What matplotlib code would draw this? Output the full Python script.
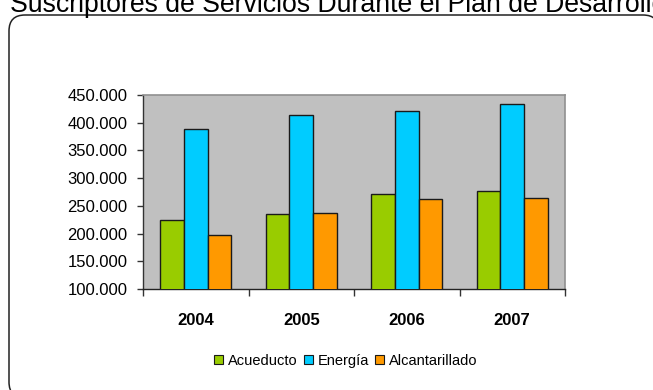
import matplotlib
matplotlib.use("Agg")
import matplotlib.pyplot as plt
from matplotlib.patches import FancyBboxPatch, Patch
from matplotlib.ticker import FuncFormatter
import numpy as np

plt.rcParams['font.family'] = ['Liberation Sans', 'DejaVu Sans']

years = ["2004", "2005", "2006", "2007"]
series_names = ["Acueducto", "Energía", "Alcantarillado"]
acueducto = [225000, 235000, 271000, 276000]
energia = [389000, 414000, 421000, 434000]
alcantarillado = [197000, 238000, 262000, 265000]
colors = ["#99CC00", "#00CCFF", "#FF9900"]
title = "Suscriptores de Servicios Durante el Plan de Desarrollo"

W, H, DPI = 653, 390, 100
fig = plt.figure(figsize=(W / DPI, H / DPI), dpi=DPI)

# rounded frame around the chart
frame = FancyBboxPatch((9, -8), 650, 383, boxstyle="round,pad=0,rounding_size=16",
                       transform=None, facecolor="white", edgecolor="#222222",
                       linewidth=1.1, clip_on=False, zorder=-5)
fig.patches.append(frame)

fig.text(10 / W, 1 - 12.5 / H, title, ha="left", va="baseline", fontsize=19.15,
         color="black")

ax = fig.add_axes([143 / W, 1 - 289 / H, (565 - 143) / W, (289 - 95) / H])
ax.set_zorder(2)
ax.set_facecolor("#C0C0C0")

x = np.arange(len(years))
bw = 0.224
for i, (vals, c) in enumerate(zip([acueducto, energia, alcantarillado], colors)):
    ax.bar(x + (i - 1) * bw, vals, width=bw, color=c, edgecolor="#1a1a1a",
           linewidth=1.0, zorder=3)

ax.set_ylim(100000, 450000)
ax.set_xlim(-0.5, len(years) - 0.5)
ax.set_yticks(np.arange(100000, 450001, 50000))
ax.yaxis.set_major_formatter(FuncFormatter(lambda v, p: f"{int(v):,}".replace(",", ".")))
ax.tick_params(axis="y", direction="out", length=4, width=1, pad=7, labelsize=12,
               color="#333333")

ax.set_xticks(np.arange(-0.5, len(years), 1.0), labels=[""] * (len(years) + 1))
ax.set_xticks(x, labels=years, minor=True)
ax.tick_params(axis="x", which="major", direction="out", length=5, width=1,
               color="#333333")
ax.tick_params(axis="x", which="minor", length=0, pad=17, labelsize=12)
for lbl in ax.get_xticklabels(minor=True):
    lbl.set_fontweight("bold")

for s in ["top", "right"]:
    ax.spines[s].set_color("#909090")
    ax.spines[s].set_linewidth(1.2)
ax.spines["left"].set_color("#333333")
ax.spines["bottom"].set_color("#222222")
ax.spines["left"].set_linewidth(1.0)
ax.spines["bottom"].set_linewidth(1.0)

handles = [Patch(facecolor=c, edgecolor="#1a1a1a", linewidth=0.8) for c in colors]
fig.legend(handles, series_names, loc="center", bbox_to_anchor=(346 / W, 1 - 361 / H),
           ncol=3, frameon=False, fontsize=10.5, handlelength=0.62, handleheight=0.55,
           handletextpad=0.34, columnspacing=0.4, borderaxespad=0)

fig.savefig("out.png", dpi=DPI)
